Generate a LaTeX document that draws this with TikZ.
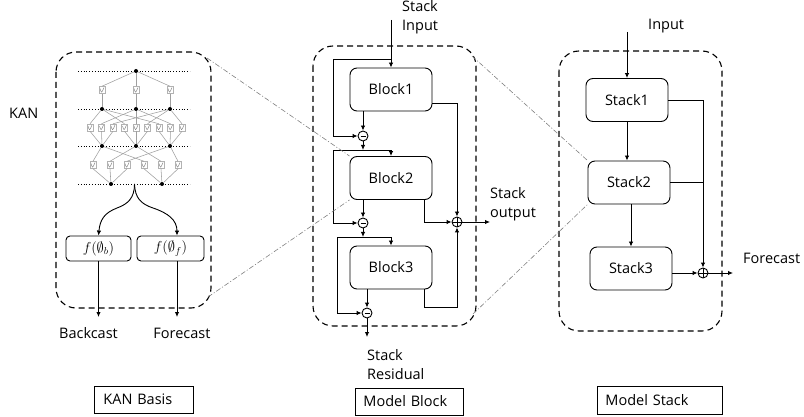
\documentclass[tikz,border=0pt]{standalone}
\usepackage{fontspec}
\setmainfont{Open Sans}
\usetikzlibrary{arrows.meta,calc}
\tikzset{
  arr/.style={line width=0.9pt,-{Latex[length=5pt,width=4.5pt]}},
  ln/.style={line width=0.9pt},
  dbox/.style={line width=1.1pt,dash pattern=on 6pt off 4pt,rounded corners=20pt},
  blk/.style={draw,line width=0.9pt,rounded corners=7pt,minimum width=82pt,minimum height=43pt,inner sep=0pt,font=\fontsize{14.5}{17}\selectfont},
  lbl/.style={inner sep=0pt,align=left,font=\fontsize{14.5}{19}\selectfont},
  opm/.style={draw,circle,line width=0.9pt,minimum size=10pt,inner sep=0pt,
    path picture={\draw[line width=0.9pt] ($(path picture bounding box.center)+(-2.5,0)$) -- ($(path picture bounding box.center)+(2.5,0)$);}},
  opp/.style={draw,circle,line width=0.9pt,minimum size=10pt,inner sep=0pt,
    path picture={\draw[line width=0.8pt] (path picture bounding box.north) -- (path picture bounding box.south) (path picture bounding box.west) -- (path picture bounding box.east);}},
  fbx/.style={draw,line width=0.9pt,rounded corners=4pt,minimum height=25pt,inner sep=0pt},
  kdot/.style={circle,fill=black,minimum size=4pt,inner sep=0pt},
  kedge/.style={draw=gray!75,line width=0.55pt},
  kdots/.style={dotted,line width=0.8pt},
  act/.style={draw=gray!60,fill=white,line width=0.5pt,minimum width=6pt,minimum height=7pt,inner sep=0pt,
    path picture={\draw[gray,line width=0.45pt] ($(path picture bounding box.center)+(-2,-1.5)$) .. controls ($(path picture bounding box.center)+(-0.5,3.5)$) .. ($(path picture bounding box.center)+(2,-2.5)$);}},
  dd/.style={draw=gray,line width=0.6pt,dash pattern=on 5pt off 2pt on 1pt off 2pt},
  capbox/.style={draw,line width=0.9pt,anchor=west,align=left,inner ysep=0pt,font=\fontsize{14.5}{17}\selectfont}
}
\begin{document}
\begin{tikzpicture}[x=1pt,y=-1pt]
\useasboundingbox (0,0) rectangle (804,417);

% ---------------- KAN basis ----------------
\draw[dbox] (56,52) rectangle (211,308);
\node[lbl,anchor=west] (kanl) at (9,113) {KAN};
\foreach \yy in {71,109,146,184} \draw[kdots] (78,\yy) -- (190,\yy);
\node[kdot] (t) at (136,71) {};
\foreach \j/\x in {0/102,1/136,2/170} {
  \node[kdot] (a\j) at (\x,109) {};
  \node[kdot] (b\j) at (\x,146) {};
}
\node[kdot] (c0) at (111,184) {};
\node[kdot] (c1) at (162,184) {};
\foreach \i in {0,1} {
  \foreach \j in {0,1,2} {
    \pgfmathsetmacro\bx{93+17*(3*\i+\j)}
    \node[act] (la\i\j) at (\bx,165) {};
    \draw[kedge] (c\i) -- (la\i\j.south);
    \draw[kedge] (la\i\j.north) -- (b\j);
  }
}
\foreach \i in {0,1,2} {
  \foreach \j in {0,1,2} {
    \pgfmathsetmacro\bx{90+11.5*(3*\i+\j)}
    \node[act] (lb\i\j) at (\bx,127.5) {};
    \draw[kedge] (b\i) -- (lb\i\j.south);
    \draw[kedge] (lb\i\j.north) -- (a\j);
  }
}
\foreach \i/\x in {0/102,1/136,2/170} {
  \node[act] (lc\i) at (\x,90) {};
  \draw[kedge] (a\i) -- (lc\i.south);
  \draw[kedge] (lc\i.north) -- (t);
}
\coordinate (fk) at (134.5,184);
\node[fbx,minimum width=65pt] (fb) at (98.5,248.5) {\Large$f(\emptyset_b)$};
\node[fbx,minimum width=67pt] (ff) at (170.5,248.5) {\Large$f(\emptyset_f)$};
\draw[arr] (fk) .. controls (134.5,198) and (128,204) .. (117,208) .. controls (104,213) and (100,220) .. (fb.north);
\draw[arr] (fk) .. controls (135,198) and (141,204) .. (153,208) .. controls (168,213) and (177,220) .. ($(ff.north)+(6.5,0)$);
\coordinate (bce) at (98.5,317);
\coordinate (fce) at (177,317);
\draw[arr] (fb.south) -- (bce);
\draw[arr] ($(ff.south)+(6.5,0)$) -- (fce);
\node[lbl] (bcl) at (88.5,333) {Backcast};
\node[lbl] (fcl) at (182,333) {Forecast};

% ---------------- Model block ----------------
\draw[dbox] (313,46) rectangle (476,326);
\node[blk] (b1) at (391,89.5) {Block1};
\node[blk] (b2) at (391,178) {Block2};
\node[blk] (b3) at (391,267.5) {Block3};
\node[opm] (m1) at (363,136) {};
\node[opm] (m2) at (363,223) {};
\node[opm] (m3) at (367,313) {};
\node[opp] (p1) at (457,222) {};
\node[lbl,anchor=west] (sinl) at (402,17) {Stack\\Input};
\coordinate (sin) at (391,20);
\coordinate (j0) at (391,59);
\coordinate (j1) at (363,150);
\coordinate (j2) at (363,237);
\coordinate (sres) at (367,337);
\coordinate (sout) at (490,222);
\draw[arr] (sin) -- (b1.north);
\draw[arr] (j0) -- ++(-58,0) |- (m1.west);
\draw[arr] (b1.south -| m1) -- (m1.north);
\draw[arr] (m1.south) -- (j1);
\draw[arr] (j1) -| (b2.north);
\draw[arr] (j1) -- ++(-30,0) |- (m2.west);
\draw[arr] (b2.south -| m2) -- (m2.north);
\draw[arr] (m2.south) -- (j2);
\draw[arr] (j2) -| (b3.north);
\draw[arr] (j2) -- ++(-26,0) |- (m3.west);
\draw[arr] (b3.south -| m3) -- (m3.north);
\draw[arr] (m3.south) -- (sres);
\draw[arr] ($(b1.south east)+(0,-8)$) -| (p1.north);
\draw[arr] ($(b2.south east)+(-8,0)$) |- (p1.west);
\draw[arr] ($(b3.south east)+(-8,0)$) -- ++(0,18) -| (p1.south);
\draw[arr] (p1.east) -- (sout);
\node[lbl,anchor=west] (soutl) at (490,204.5) {Stack\\output};
\node[lbl,anchor=west] (sresl) at (367,364.5) {Stack\\Residual};

% ---------------- Model stack ----------------
\draw[dbox] (559,51) rectangle (722,331);
\node[blk] (s1) at (627,100) {Stack1};
\node[blk] (s2) at (629,182.5) {Stack2};
\node[blk] (s3) at (631,268.5) {Stack3};
\node[opp] (p2) at (703,273) {};
\node[lbl,anchor=west] (inl) at (648,26) {Input};
\coordinate (inp) at (627,32);
\coordinate (fout) at (733,273);
\draw[arr] (inp) -- (s1.north);
\draw[arr] (s1.south) -- (s1.south |- s2.north);
\draw[arr] ($(s2.south)+(2,0)$) -- ($(s2.south |- s3.north)+(2,0)$);
\draw[arr] (s1.east) -| (p2.north);
\draw[ln] (s2.east) -- (s2.east -| p2);
\draw[arr] (s3.east |- p2) -- (p2.west);
\draw[arr] (p2.east) -- (fout);
\node[lbl,anchor=west] (fcr) at (743,258) {Forecast};

% ---------------- zoom lines ----------------
\draw[dd] (207,58) -- (b2.north west);
\draw[dd] (208,297) -- (b2.south west);
\draw[dd] (472,56) -- (s2.north west);
\draw[dd] (473,314) -- (s2.south west);

% ---------------- captions ----------------
\node[capbox,minimum height=27pt,text width=81pt,inner xsep=9pt] (c1cap) at (94,399.5) {KAN Basis};
\node[capbox,minimum height=27pt,text width=92pt,inner xsep=8pt] (c2cap) at (355,401.5) {Model Block};
\node[capbox,minimum height=28pt,text width=109pt,inner xsep=8pt] (c3cap) at (597,400) {Model Stack};
\end{tikzpicture}
\end{document}
